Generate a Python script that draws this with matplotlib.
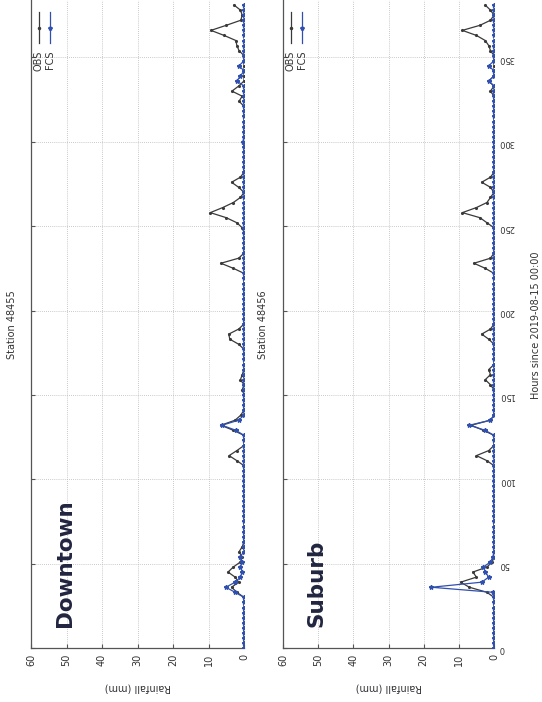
import numpy as np
import matplotlib
matplotlib.use("Agg")
import matplotlib.pyplot as plt

# 3-hourly rainfall from 2019-08-15 00:00 (hours 0..381); only wet steps listed
step = 3
n_steps = 128
hours = np.arange(n_steps) * step

downtown_obs_hours = [33, 36, 39, 42, 45, 48, 51, 54, 57, 60,
                      111, 114, 117, 130, 133, 136, 139, 153, 159, 162,
                      180, 183, 186, 189, 225, 228, 231,
                      249, 252, 255, 258, 261, 264, 267, 273, 276, 279,
                      324, 327, 330, 333, 354, 357, 360, 363, 366, 369, 372, 375, 378, 381]
downtown_obs_vals = [2.0, 3.5, 1.5, 2.5, 4.5, 3.0, 1.0, 0.5, 1.4, 0.5,
                     2.0, 4.2, 2.0, 3.0, 6.5, 2.5, 0.9, 0.5, 1.0, 0.5,
                     1.5, 4.0, 4.3, 1.5, 3.0, 6.5, 1.5,
                     0.5, 2.0, 5.0, 9.5, 6.0, 3.0, 1.0, 1.5, 3.5, 1.0,
                     1.4, 0.5, 3.4, 1.5, 1.4, 2.0, 2.3, 5.6, 9.3, 5.0, 0.9, 0.5, 1.0, 2.8]
downtown_fcs_hours = [33, 36, 39, 42, 45, 48, 51, 54, 130, 133, 136, 300, 336, 339, 345]
downtown_fcs_vals = [2.5, 5.1, 2.5, 1.0, 0.5, 1.0, 0.5, 1.2, 2.3, 6.2, 1.5, 0.3, 2.0, 1.0, 1.4]

suburb_obs_hours = [33, 36, 39, 42, 45, 48, 51, 111, 114, 117, 130, 133, 136,
                    156, 159, 162, 165, 183, 186, 189, 225, 228, 231,
                    252, 255, 258, 261, 264, 267, 273, 276, 279,
                    330, 336, 354, 357, 360, 363, 366, 369, 372, 378, 381]
suburb_obs_vals = [2.0, 7.0, 9.5, 5.0, 6.0, 2.0, 0.5, 2.0, 5.0, 1.5, 3.0, 6.5, 1.0,
                   1.0, 2.5, 1.0, 1.5, 1.5, 3.5, 1.0, 2.5, 5.7, 1.0,
                   2.0, 4.0, 9.0, 5.0, 2.0, 1.0, 1.0, 3.5, 1.0,
                   1.0, 1.5, 1.0, 1.5, 2.5, 5.0, 9.0, 4.0, 1.0, 1.0, 2.5]
suburb_fcs_hours = [33, 36, 39, 42, 45, 48, 51, 54, 130, 133, 136, 336, 345]
suburb_fcs_vals = [0.3, 17.8, 3.5, 1.5, 2.5, 3.0, 1.0, 0.3, 2.5, 7.0, 1.0, 1.5, 1.5]

stations = ["Station 48455", "Station 48456"]
places = ["Downtown", "Suburb"]
rain_ticks = [0, 10, 20, 30, 40, 50, 60]
hour_ticks = [0, 50, 100, 150, 200, 250, 300, 350]


def gridded(idx, vals):
    series = np.zeros(n_steps)
    series[np.asarray(idx) // step] = vals
    return series


panels = [
    (gridded(downtown_obs_hours, downtown_obs_vals), gridded(downtown_fcs_hours, downtown_fcs_vals)),
    (gridded(suburb_obs_hours, suburb_obs_vals), gridded(suburb_fcs_hours, suburb_fcs_vals)),
]

OBS_C = "#3a3a3a"
FCS_C = "#3050b0"
TXT_C = "#333333"

fig = plt.figure(figsize=(5.42, 7.02), dpi=100)
boxes = [[31 / 542, 54 / 702, 213 / 542, 648 / 702],
         [283 / 542, 54 / 702, 211 / 542, 648 / 702]]

for k, (obs, fcs) in enumerate(panels):
    ax = fig.add_axes(boxes[k])
    ax.plot(obs, hours, color=OBS_C, lw=0.9, marker=".", ms=2.5, zorder=3)
    ax.plot(fcs, hours, color=FCS_C, lw=0.9, marker="*", ms=3.2, zorder=4)
    ax.set_xlim(60, 0)
    ax.set_ylim(0, 384)
    ax.set_xticks(rain_ticks)
    ax.set_yticks(hour_ticks)
    ax.grid(True, color="#b8b8b8", ls=(0, (1, 1.5)), lw=0.6)
    ax.set_axisbelow(True)
    for s in ("top", "right"):
        ax.spines[s].set_visible(False)
    for s in ("left", "bottom"):
        ax.spines[s].set_color("#555555")
        ax.spines[s].set_linewidth(0.9)
    ax.tick_params(axis="x", direction="in", length=3, labelsize=7,
                   labelrotation=90, colors="#555555", labelcolor=TXT_C, pad=4)
    ax.tick_params(axis="y", direction="in", length=3, colors="#555555",
                   labelsize=6, labelcolor=TXT_C, left=True, right=False,
                   labelleft=False, labelright=(k == 1), labelrotation=180)
    ax.set_xlabel("Rainfall (mm)", rotation=180, fontsize=7, color=TXT_C, labelpad=12)

    # rotated legend
    lx = [0.036, 0.09]
    for j, (lab, col, mk) in enumerate([("OBS", OBS_C, "."), ("FCS", FCS_C, "*")]):
        ax.plot([lx[j], lx[j]], [0.934, 0.981], color=col, lw=0.9,
                transform=ax.transAxes, zorder=5)
        ax.plot([lx[j]], [0.957], color=col, marker=mk, ms=3,
                transform=ax.transAxes, zorder=5)
        ax.text(lx[j], 0.922, lab, rotation=90, ha="center", va="top",
                fontsize=7, color=TXT_C, transform=ax.transAxes)

    ax.text(0.16, 0.032, places[k], rotation=90, ha="center", va="bottom",
            fontsize=15.5, fontweight="bold", color="#21253f", transform=ax.transAxes)

fig.text(12 / 542, 1 - 325 / 702, stations[0], rotation=90, ha="center", va="center",
         fontsize=7, color=TXT_C)
fig.text(263 / 542, 1 - 325 / 702, stations[1], rotation=90, ha="center", va="center",
         fontsize=7, color=TXT_C)
fig.text(536 / 542, 1 - 325 / 702, "Hours since 2019-08-15 00:00", rotation=90,
         ha="center", va="center", fontsize=7, color=TXT_C)

fig.savefig("out.png", dpi=100)
